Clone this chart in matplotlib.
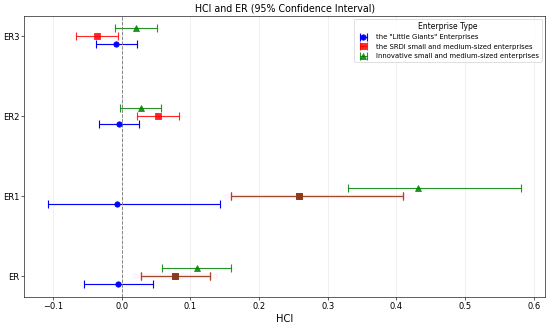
import matplotlib
matplotlib.use("Agg")
import matplotlib.pyplot as plt
import numpy as np

categories = ["ER", "ER1", "ER2", "ER3"]
series_names = ['the "Little Giants" Enterprises',
                'the SRDI small and medium-sized enterprises',
                'Innovative small and medium-sized enterprises']

blue_mean = [-0.006, -0.007, -0.004, -0.008]
blue_low = [-0.055, -0.107, -0.033, -0.038]
blue_high = [0.045, 0.143, 0.026, 0.022]

red_mean = [0.077, 0.258, 0.053, -0.036]
red_low = [0.028, 0.159, 0.023, -0.066]
red_high = [0.128, 0.409, 0.083, -0.006]

green_mean = [0.109, 0.431, 0.028, 0.021]
green_low = [0.059, 0.330, -0.002, -0.009]
green_high = [0.159, 0.582, 0.058, 0.051]

fig = plt.figure(figsize=(10, 325 / 55), dpi=55)
ax = fig.add_axes([0.0445, 0.086, 0.9465, 0.866])

y = np.arange(len(categories))
offsets = [-0.1, 0.0, 0.1]
colors = ["blue", "red", "green"]
markers = ["o", "s", "^"]
data = [(blue_mean, blue_low, blue_high),
        (red_mean, red_low, red_high),
        (green_mean, green_low, green_high)]

for k, ((m, lo, hi), c, mk, name) in enumerate(zip(data, colors, markers, series_names)):
    m = np.array(m); lo = np.array(lo); hi = np.array(hi)
    err = np.vstack([m - lo, hi - m])
    ax.errorbar(m, y + offsets[k], xerr=err, fmt=mk, color=c, ecolor=c,
                capsize=5, markersize=7, elinewidth=1.5, capthick=1.5,
                label=name, alpha=0.85 if k != 0 else 1)

# brownish overlay with faint pink halo for the SRDI series on ER and ER1
for i in [0, 1]:
    m, lo, hi = red_mean[i], red_low[i], red_high[i]
    pad = 0.012
    ax.fill_between([lo - pad, hi + pad], y[i] - 0.035, y[i] + 0.035,
                    color="#ff88dd", alpha=0.08, linewidth=0, zorder=1)
    ax.errorbar([m], [y[i]], xerr=[[m - lo], [hi - m]], fmt="s", color="#8b3a1a",
                ecolor="#9b4a2a", capsize=5, markersize=7, elinewidth=1.5,
                capthick=1.5, zorder=3)

ax.axvline(0, color="gray", linestyle="--", linewidth=1.2)
ax.set_yticks(y)
ax.set_yticklabels(categories, fontsize=11)
ax.tick_params(axis="x", labelsize=11)
ax.grid(axis="x", alpha=0.3)
ax.set_xlabel("HCI", fontsize=13)
ax.set_title("HCI and ER (95% Confidence Interval)", fontsize=12.5)
ax.legend(title="Enterprise Type", loc="upper right", fontsize=9, title_fontsize=10)

fig.savefig("out.png", dpi=55)
